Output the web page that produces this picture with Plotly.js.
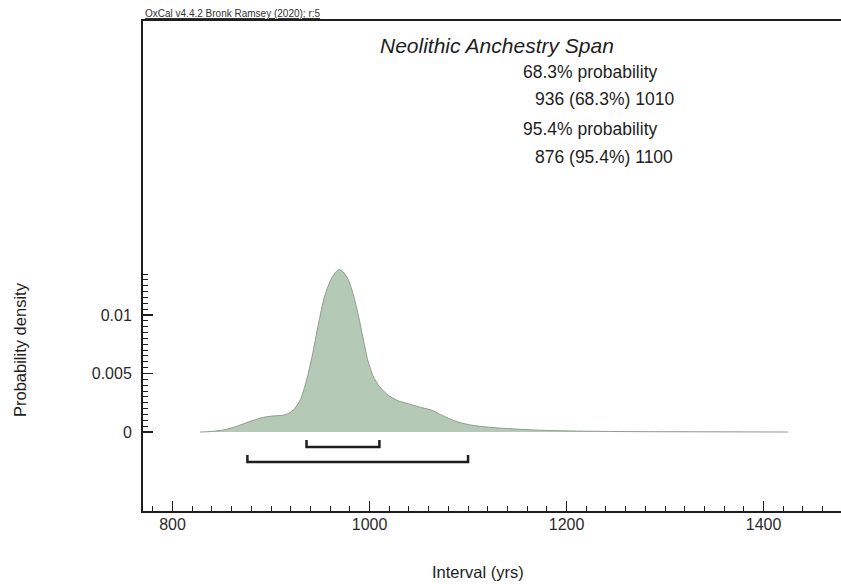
<!DOCTYPE html>
<html>
<head>
<meta charset="utf-8">
<script src="https://cdn.plot.ly/plotly-3.0.1.min.js"></script>
<style>
  html, body { margin: 0; padding: 0; background: #ffffff; }
  #chart { width: 841px; height: 584px; }
</style>
</head>
<body>
<div id="chart"></div>
<script>
// Posterior density of the span (years)
const spanYears = [828, 840, 852, 862, 872, 882, 892, 902, 912, 918, 924, 930, 936, 942, 948, 954, 960, 965, 969, 973, 978, 983, 988, 993, 998, 1004, 1010, 1018, 1028, 1040, 1052, 1062, 1072, 1082, 1092, 1104, 1116, 1130, 1145, 1165, 1185, 1210, 1240, 1280, 1330, 1380, 1425];
const spanDensity = [0, 0.00005, 0.00018, 0.0004, 0.0007, 0.001, 0.00125, 0.00137, 0.00143, 0.0016, 0.002, 0.0028, 0.0044, 0.0066, 0.0092, 0.0115, 0.0129, 0.0136, 0.0139, 0.0137, 0.0131, 0.0119, 0.0102, 0.0082, 0.0062, 0.0047, 0.0039, 0.0032, 0.0027, 0.0024, 0.0021, 0.0019, 0.0015, 0.0011, 0.0008, 0.00058, 0.00045, 0.00035, 0.00027, 0.00018, 0.00012, 0.00008, 0.00005, 0.00003, 0.00002, 0.00001, 0];

// Highest posterior density ranges
const range683 = [936, 1010];
const range954 = [876, 1100];

// Axis ticks
const xTickVals = [800, 1000, 1200, 1400];
const yTickVals = [0, 0.005, 0.01];
const yTickText = ['0', '0.005', '0.01'];

const FONT = '"Liberation Sans", Arial, Helvetica, sans-serif';
const INK = '#1e1e1e';

// Minor ticks on the density axis run from zero up to the top of the curve
const yMinor = [];
for (let i = 0; i <= 27; i++) yMinor.push(+(i * 0.0005).toFixed(4));

// Range brackets drawn below the curve
function bracket(range, top, bar) {
  return {
    x: [range[0], range[0], range[1], range[1]],
    y: [top, bar, bar, top],
    type: 'scatter',
    mode: 'lines',
    line: { color: INK, width: 2.5 },
    hoverinfo: 'skip',
    showlegend: false
  };
}

const traces = [
  {
    x: spanYears,
    y: spanDensity,
    type: 'scatter',
    mode: 'lines',
    fill: 'tozeroy',
    fillcolor: '#b5cab6',
    line: { color: '#8f998f', width: 1, shape: 'spline', smoothing: 0.6 },
    showlegend: false
  },
  bracket(range683, -0.00068, -0.00128),
  bracket(range954, -0.00197, -0.00256)
];

const layout = {
  width: 841,
  height: 584,
  margin: { l: 143, r: 0, t: 21, b: 73 },
  paper_bgcolor: '#ffffff',
  plot_bgcolor: '#ffffff',
  font: { family: FONT, color: INK, size: 16 },
  showlegend: false,
  xaxis: {
    range: [770, 1478.6],
    tickmode: 'array',
    tickvals: xTickVals,
    ticks: 'inside',
    ticklen: 10,
    tickwidth: 1.5,
    tickcolor: INK,
    showline: true,
    linewidth: 2,
    linecolor: INK,
    mirror: true,
    showgrid: false,
    zeroline: false,
    ticklabelstandoff: -2,
    tickfont: { family: FONT, size: 16, color: '#2a2a2a' },
    minor: { tickmode: 'linear', tick0: 800, dtick: 20, ticks: 'inside', ticklen: 5, tickwidth: 1, tickcolor: INK }
  },
  yaxis: {
    range: [-0.00675, 0.03513],
    tickmode: 'array',
    tickvals: yTickVals,
    ticktext: yTickText,
    ticks: 'inside',
    ticklen: 10,
    tickwidth: 1.5,
    tickcolor: INK,
    showline: true,
    linewidth: 2,
    linecolor: INK,
    mirror: false,
    showgrid: false,
    zeroline: false,
    ticklabelstandoff: 6,
    tickfont: { family: FONT, size: 16, color: '#2a2a2a' },
    minor: { tickmode: 'array', tickvals: yMinor, ticks: 'inside', ticklen: 5, tickwidth: 1, tickcolor: INK }
  },
  annotations: [
    {
      text: '<u>OxCal v4.4.2 Bronk Ramsey (2020); r:5</u>',
      xref: 'paper', yref: 'paper', x: 0, y: 1.0163,
      xanchor: 'left', yanchor: 'middle', showarrow: false,
      font: { family: FONT, size: 10, color: '#333333' }
    },
    {
      text: '<i>Neolithic Anchestry Span</i>',
      xref: 'paper', yref: 'paper', x: 0.3367, y: 0.951,
      xanchor: 'left', yanchor: 'middle', showarrow: false,
      font: { family: FONT, size: 21, color: INK }
    },
    {
      text: '68.3% probability',
      xref: 'paper', yref: 'paper', x: 0.541, y: 0.896,
      xanchor: 'left', yanchor: 'middle', showarrow: false,
      font: { family: FONT, size: 17.5, color: INK }
    },
    {
      text: '936 (68.3%) 1010',
      xref: 'paper', yref: 'paper', x: 0.5587, y: 0.8408,
      xanchor: 'left', yanchor: 'middle', showarrow: false,
      font: { family: FONT, size: 17.5, color: INK }
    },
    {
      text: '95.4% probability',
      xref: 'paper', yref: 'paper', x: 0.541, y: 0.7796,
      xanchor: 'left', yanchor: 'middle', showarrow: false,
      font: { family: FONT, size: 17.5, color: INK }
    },
    {
      text: '876 (95.4%) 1100',
      xref: 'paper', yref: 'paper', x: 0.5587, y: 0.7224,
      xanchor: 'left', yanchor: 'middle', showarrow: false,
      font: { family: FONT, size: 17.5, color: INK }
    },
    {
      text: 'Interval (yrs)',
      xref: 'paper', yref: 'paper', x: 0.48, y: -0.1245,
      xanchor: 'center', yanchor: 'middle', showarrow: false,
      font: { family: FONT, size: 16.5, color: INK }
    },
    {
      text: 'Probability density',
      xref: 'paper', yref: 'paper', x: -0.1762, y: 0.3286,
      xanchor: 'center', yanchor: 'middle', showarrow: false, textangle: -90,
      font: { family: FONT, size: 16.5, color: INK }
    }
  ]
};

Plotly.newPlot('chart', traces, layout, { staticPlot: true, displayModeBar: false });
</script>
</body>
</html>
